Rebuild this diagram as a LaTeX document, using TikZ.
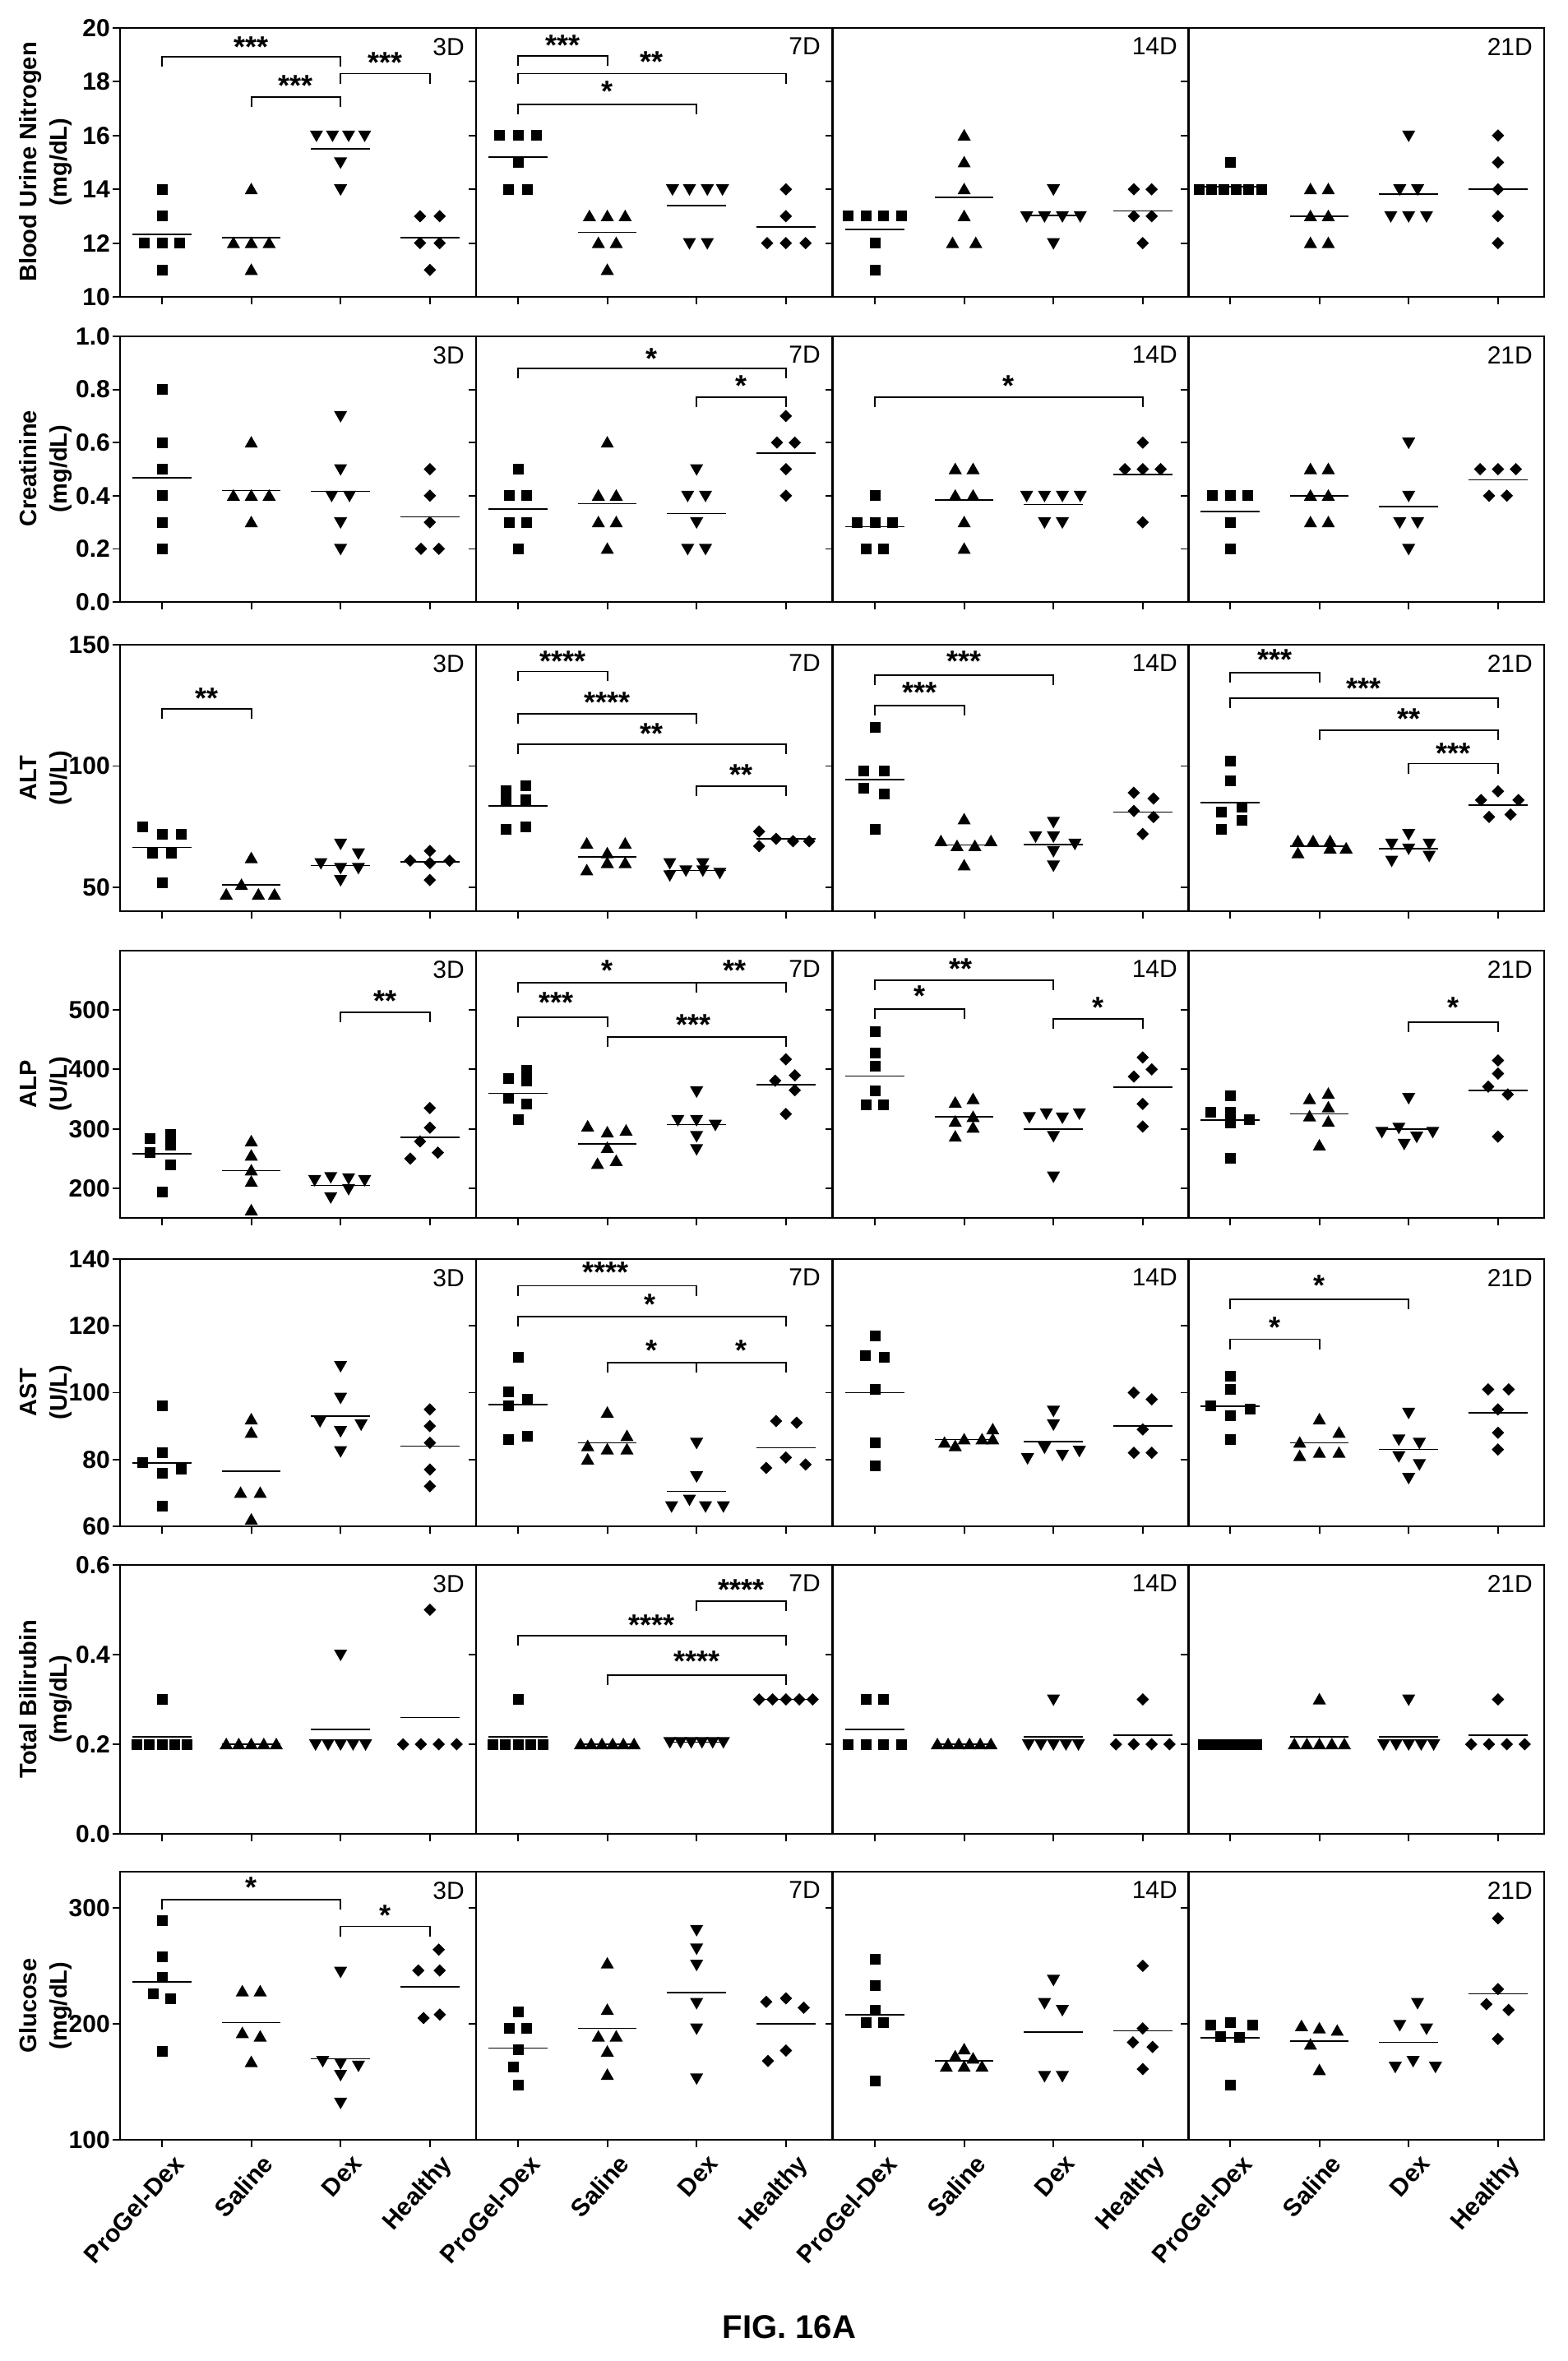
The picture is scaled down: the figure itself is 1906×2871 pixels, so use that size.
\documentclass[tikz,border=0pt]{standalone}
\usepackage{fontspec}
\setmainfont{Liberation Sans}
\tikzset{
 frame/.style={line width=2.6pt},
 tk/.style={line width=1.8pt},
 mline/.style={line width=1.6pt},
 brk/.style={line width=1.8pt},
 stars/.style={font=\bfseries\fontsize{36}{36}\selectfont, inner sep=0pt, yshift=-8pt},
 day/.style={font=\fontsize{30}{30}\selectfont, inner sep=0pt, anchor=north east},
 tl/.style={font=\bfseries\fontsize{30}{30}\selectfont, anchor=east, inner sep=0pt},
 ylab/.style={font=\bfseries\fontsize{29}{37}\selectfont, rotate=90, align=center, inner sep=0pt},
 xlab/.style={font=\bfseries\fontsize{30}{30}\selectfont, rotate=48, anchor=north east, inner sep=0pt}
}
\newcommand\Sq[2]{\fill (#1,#2) ++(-6.5pt,-6.5pt) rectangle ++(13pt,13pt);}
\newcommand\Tu[2]{\fill (#1,#2) ++(0pt,8pt) -- ++(-8pt,-14pt) -- ++(16pt,0pt) -- cycle;}
\newcommand\Td[2]{\fill (#1,#2) ++(0pt,-8pt) -- ++(-8pt,14pt) -- ++(16pt,0pt) -- cycle;}
\newcommand\Dm[2]{\fill (#1,#2) ++(0pt,7.5pt) -- ++(7.5pt,-7.5pt) -- ++(-7.5pt,-7.5pt) -- ++(-7.5pt,7.5pt) -- cycle;}
\newcommand\Mn[2]{\draw[mline] (#1-0.33,#2) -- (#1+0.33,#2);}
\newcommand\Br[6]{\draw[brk] (#1,#3) ++(0pt,-12pt) -- (#1,#3) -- (#2,#3) -- ++(0pt,-12pt); \node[stars] at (#5,#6) {#4};}
\newcommand\Frames[2]{\foreach \L in {146,579,1013,1445} {\draw[frame] (\L,#1) rectangle (\L+433,#2);
  \foreach \g in {0,...,3} \draw[tk] (\L+51+\g*108.6,#2) -- ++(0,9);}}
\newcommand\Yticks[3]{\foreach \L in {146,579,1013,1445} {\foreach \v in {#3} \draw[tk] (\L,{#1-#2*\v}) -- ++(-9,0);}}
\newcommand\Ylabs[3]{\foreach \v/\t in {#3} \node[tl] at (134,{#1-#2*\v}) {\t};}
\newcommand\Days[1]{\node[day] at (565,#1) {3D};\node[day] at (998,#1) {7D};\node[day] at (1432,#1) {14D};\node[day] at (1864,#1) {21D};}
\begin{document}
\begin{tikzpicture}[x=1pt,y=-1pt]
\useasboundingbox (0,0) rectangle (1906,2871);
% ---------- Row 1 BUN
\Frames{34}{361}\Yticks{688}{32.7}{10,12,14,16,18,20}
\Ylabs{688}{32.7}{10/10,12/12,14/14,16/16,18/18,20/20}\Days{46}
\node[ylab] (l1) at (56,197) {Blood Urine Nitrogen\\(mg/dL)};
\begin{scope}[shift={(197,688)},x=108.6pt,y=32.7pt]
\Sq{0}{14}\Sq{0}{13}\Sq{-.2}{12}\Sq{0}{12}\Sq{.2}{12}\Sq{0}{11}\Mn{0}{12.33}
\Tu{1}{14}\Tu{.8}{12}\Tu{1}{12}\Tu{1.2}{12}\Tu{1}{11}\Mn{1}{12.2}
\Td{1.73}{16}\Td{1.91}{16}\Td{2.09}{16}\Td{2.27}{16}\Td{2}{15}\Td{2}{14}\Mn{2}{15.5}
\Dm{2.89}{13}\Dm{3.11}{13}\Dm{2.89}{12}\Dm{3.11}{12}\Dm{3}{11}\Mn{3}{12.2}
\Br{0}{2}{18.93}{***}{1}{19.55}\Br{1}{2}{17.43}{***}{1.5}{18.1}\Br{2}{3}{18.3}{***}{2.5}{18.96}
\end{scope}
\begin{scope}[shift={(630,688)},x=108.6pt,y=32.7pt]
\Sq{-.21}{16}\Sq{0}{16}\Sq{.21}{16}\Sq{0}{15}\Sq{-.11}{14}\Sq{.11}{14}\Mn{0}{15.2}
\Tu{.8}{13}\Tu{1}{13}\Tu{1.2}{13}\Tu{.9}{12}\Tu{1.1}{12}\Tu{1}{11}\Mn{1}{12.4}
\Td{1.73}{14}\Td{1.92}{14}\Td{2.12}{14}\Td{2.29}{14}\Td{1.92}{12}\Td{2.12}{12}\Mn{2}{13.4}
\Dm{3}{14}\Dm{3}{13}\Dm{2.79}{12}\Dm{3}{12}\Dm{3.22}{12}\Mn{3}{12.6}
\Br{0}{1}{18.96}{***}{.5}{19.6}\Br{0}{3}{18.3}{**}{1.5}{19.0}\Br{0}{2}{17.15}{*}{1}{17.9}
\end{scope}
\begin{scope}[shift={(1064,688)},x=108.6pt,y=32.7pt]
\Sq{-.3}{13}\Sq{-.1}{13}\Sq{.1}{13}\Sq{.3}{13}\Sq{0}{12}\Sq{0}{11}\Mn{0}{12.5}
\Tu{1}{16}\Tu{1}{15}\Tu{1}{14}\Tu{1}{13}\Tu{.87}{12}\Tu{1.13}{12}\Mn{1}{13.7}
\Td{2}{14}\Td{1.7}{13}\Td{1.9}{13}\Td{2.1}{13}\Td{2.3}{13}\Td{2}{12}\Mn{2}{13.03}
\Dm{2.9}{14}\Dm{3.1}{14}\Dm{2.9}{13}\Dm{3.1}{13}\Dm{3}{12}\Mn{3}{13.2}
\end{scope}
\begin{scope}[shift={(1496,688)},x=108.6pt,y=32.7pt]
\Sq{0}{15}\foreach \o in {-.35,-.21,-.07,.07,.21,.35} {\Sq{\o}{14}}\Mn{0}{14.1}
\Tu{.9}{14}\Tu{1.1}{14}\Tu{.9}{13}\Tu{1.1}{13}\Tu{.9}{12}\Tu{1.1}{12}\Mn{1}{13}
\Td{2}{16}\Td{1.9}{14}\Td{2.1}{14}\Td{1.8}{13}\Td{2}{13}\Td{2.2}{13}\Mn{2}{13.83}
\Dm{3}{16}\Dm{3}{15}\Dm{3}{14}\Dm{3}{13}\Dm{3}{12}\Mn{3}{14}
\end{scope}
% ---------- Row 2 Creatinine
\Frames{409}{732}\Yticks{732}{323}{0,.2,.4,.6,.8,1}
\Ylabs{732}{323}{0/0.0,.2/0.2,.4/0.4,.6/0.6,.8/0.8,1/1.0}\Days{421}
\node[ylab] (l2) at (56,570) {Creatinine\\(mg/dL)};
\begin{scope}[shift={(197,732)},x=108.6pt,y=323pt]
\Sq{0}{.8}\Sq{0}{.6}\Sq{0}{.5}\Sq{0}{.4}\Sq{0}{.3}\Sq{0}{.2}\Mn{0}{.467}
\Tu{1}{.6}\Tu{.8}{.4}\Tu{1}{.4}\Tu{1.2}{.4}\Tu{1}{.3}\Mn{1}{.42}
\Td{2}{.7}\Td{2}{.5}\Td{1.9}{.4}\Td{2.1}{.4}\Td{2}{.3}\Td{2}{.2}\Mn{2}{.417}
\Dm{3}{.5}\Dm{3}{.4}\Dm{3}{.3}\Dm{2.9}{.2}\Dm{3.1}{.2}\Mn{3}{.32}
\end{scope}
\begin{scope}[shift={(630,732)},x=108.6pt,y=323pt]
\Sq{0}{.5}\Sq{-.1}{.4}\Sq{.1}{.4}\Sq{-.1}{.3}\Sq{.1}{.3}\Sq{0}{.2}\Mn{0}{.35}
\Tu{1}{.6}\Tu{.9}{.4}\Tu{1.1}{.4}\Tu{.9}{.3}\Tu{1.1}{.3}\Tu{1}{.2}\Mn{1}{.37}
\Td{2}{.5}\Td{1.9}{.4}\Td{2.1}{.4}\Td{2}{.3}\Td{1.9}{.2}\Td{2.1}{.2}\Mn{2}{.333}
\Dm{3}{.7}\Dm{2.9}{.6}\Dm{3.1}{.6}\Dm{3}{.5}\Dm{3}{.4}\Mn{3}{.56}
\Br{0}{3}{.88}{*}{1.5}{.94}\Br{2}{3}{.77}{*}{2.5}{.84}
\end{scope}
\begin{scope}[shift={(1064,732)},x=108.6pt,y=323pt]
\Sq{0}{.4}\Sq{-.2}{.3}\Sq{0}{.3}\Sq{.2}{.3}\Sq{-.1}{.2}\Sq{.1}{.2}\Mn{0}{.283}
\Tu{.9}{.5}\Tu{1.1}{.5}\Tu{.9}{.4}\Tu{1.1}{.4}\Tu{1}{.3}\Tu{1}{.2}\Mn{1}{.383}
\Td{1.7}{.4}\Td{1.9}{.4}\Td{2.1}{.4}\Td{2.3}{.4}\Td{1.9}{.3}\Td{2.1}{.3}\Mn{2}{.367}
\Dm{3}{.6}\Dm{2.8}{.5}\Dm{3}{.5}\Dm{3.2}{.5}\Dm{3}{.3}\Mn{3}{.48}
\Br{0}{3}{.77}{*}{1.5}{.84}
\end{scope}
\begin{scope}[shift={(1496,732)},x=108.6pt,y=323pt]
\Sq{-.2}{.4}\Sq{0}{.4}\Sq{.2}{.4}\Sq{0}{.3}\Sq{0}{.2}\Mn{0}{.34}
\Tu{.9}{.5}\Tu{1.1}{.5}\Tu{.9}{.4}\Tu{1.1}{.4}\Tu{.9}{.3}\Tu{1.1}{.3}\Mn{1}{.4}
\Td{2}{.6}\Td{2}{.4}\Td{1.9}{.3}\Td{2.1}{.3}\Td{2}{.2}\Mn{2}{.36}
\Dm{2.8}{.5}\Dm{3}{.5}\Dm{3.2}{.5}\Dm{2.9}{.4}\Dm{3.1}{.4}\Mn{3}{.46}
\end{scope}
% ---------- Row 3 ALT
\Frames{784}{1108}\Yticks{1226.5}{2.95}{50,100,150}
\Ylabs{1226.5}{2.95}{50/50,100/100,150/150}\Days{796}
\node[ylab] (l3) at (56,946) {ALT\\(U/L)};
\begin{scope}[shift={(197,1226.5)},x=108.6pt,y=2.95pt]
\Sq{-.22}{75}\Sq{0}{72}\Sq{.22}{72}\Sq{-.11}{64}\Sq{.11}{64}\Sq{0}{52}\Mn{0}{66.5}
\Tu{1}{62}\Tu{.89}{51}\Tu{.72}{47}\Tu{1.08}{47}\Tu{1.26}{47}\Mn{1}{51}
\Td{1.78}{60}\Td{2}{68}\Td{2}{58}\Td{2.2}{64}\Td{2.2}{58}\Td{2}{53}\Mn{2}{59}
\Dm{2.78}{61}\Dm{3}{65}\Dm{3}{60}\Dm{3.22}{61}\Dm{3}{53}\Mn{3}{60.5}
\Br{0}{1}{123.6}{**}{.5}{130.7}
\end{scope}
\begin{scope}[shift={(630,1226.5)},x=108.6pt,y=2.95pt]
\Sq{-.13}{90}\Sq{.09}{92}\Sq{-.13}{86}\Sq{.09}{86}\Sq{-.13}{74}\Sq{.09}{75}\Mn{0}{83.5}
\Tu{.77}{68}\Tu{1}{64}\Tu{1.2}{68}\Tu{.77}{57}\Tu{1}{60}\Tu{1.2}{60}\Mn{1}{62.5}
\Td{1.7}{60}\Td{1.88}{57}\Td{2.07}{60}\Td{1.7}{55}\Td{2.07}{57}\Td{2.26}{56}\Mn{2}{57}
\Dm{2.7}{73}\Dm{2.7}{67}\Dm{2.89}{70}\Dm{3.08}{69}\Dm{3.26}{69}\Mn{3}{70}
\Br{0}{1}{139}{****}{.5}{146}\Br{0}{2}{121.6}{****}{1}{129}\Br{0}{3}{109}{**}{1.5}{116}\Br{2}{3}{91.7}{**}{2.5}{99}
\end{scope}
\begin{scope}[shift={(1064,1226.5)},x=108.6pt,y=2.95pt]
\Sq{0}{116}\Sq{-.12}{98}\Sq{.11}{98}\Sq{-.12}{91}\Sq{.11}{88.6}\Sq{0}{74}\Mn{0}{94.4}
\Tu{1}{78}\Tu{.74}{69}\Tu{1.3}{69}\Tu{.92}{67}\Tu{1.12}{67}\Tu{1}{59}\Mn{1}{67.5}
\Td{1.8}{71}\Td{2}{77}\Td{2}{71}\Td{2}{65}\Td{2.24}{68}\Td{2}{59}\Mn{2}{67.7}
\Dm{2.9}{89}\Dm{3.12}{86.6}\Dm{2.9}{81.5}\Dm{3.12}{79}\Dm{3}{72}\Mn{3}{81}
\Br{0}{1}{125}{***}{.5}{133}\Br{0}{2}{137.5}{***}{1}{146}
\end{scope}
\begin{scope}[shift={(1496,1226.5)},x=108.6pt,y=2.95pt]
\Sq{0}{102}\Sq{0}{94}\Sq{-.1}{81}\Sq{.13}{83}\Sq{-.1}{74}\Sq{.13}{77.5}\Mn{0}{85}
\Tu{.76}{69}\Tu{.93}{69}\Tu{1.12}{69}\Tu{.76}{64}\Tu{1.12}{66}\Tu{1.3}{66}\Mn{1}{67}
\Td{1.81}{68}\Td{2}{72}\Td{2.23}{68}\Td{2}{66}\Td{1.81}{61}\Td{2.23}{63}\Mn{2}{66}
\Dm{2.81}{86}\Dm{3}{89.6}\Dm{3.23}{86}\Dm{2.9}{79}\Dm{3.14}{80}\Mn{3}{84}
\Br{0}{1}{138.5}{***}{.5}{146.6}\Br{0}{3}{128}{***}{1.5}{134.8}\Br{1}{3}{114.8}{**}{2}{122}\Br{2}{3}{101}{***}{2.5}{108}
\end{scope}
% ---------- Row 4 ALP
\Frames{1156}{1481}\Yticks{1589.7}{.7233}{200,300,400,500}
\Ylabs{1589.7}{.7233}{200/200,300/300,400/400,500/500}\Days{1168}
\node[ylab] (l4) at (56,1318) {ALP\\(U/L)};
\begin{scope}[shift={(197,1589.7)},x=108.6pt,y=.7233pt]
\Sq{-.13}{284}\Sq{.1}{291}\Sq{-.13}{260}\Sq{.1}{272}\Sq{.1}{240}\Sq{0}{194}\Mn{0}{258}
\Tu{1}{279}\Tu{1}{255}\Tu{1}{230}\Tu{1}{211}\Tu{1}{163}\Mn{1}{230}
\Td{1.71}{214}\Td{1.89}{219}\Td{2.09}{217}\Td{2.27}{214}\Td{1.89}{185}\Td{2.09}{199}\Mn{2}{205}
\Dm{3}{335}\Dm{3}{302}\Dm{2.89}{279}\Dm{2.78}{250}\Dm{3.09}{260}\Mn{3}{286}
\Br{2}{3}{496}{**}{2.5}{526}
\end{scope}
\begin{scope}[shift={(630,1589.7)},x=108.6pt,y=.7233pt]
\Sq{-.11}{385}\Sq{.1}{398}\Sq{.1}{380}\Sq{-.11}{352}\Sq{.1}{342}\Sq{0}{315}\Mn{0}{360}
\Tu{.78}{304}\Tu{1}{294}\Tu{1.21}{297}\Tu{1}{268}\Tu{.89}{241}\Tu{1.1}{246}\Mn{1}{275}
\Td{2}{363}\Td{1.79}{315}\Td{2}{315}\Td{2.21}{307}\Td{2}{288}\Td{2}{266}\Mn{2}{307}
\Dm{3}{417}\Dm{3.1}{390}\Dm{2.88}{381}\Dm{3.1}{365}\Dm{3}{325}\Mn{3}{374}
\Br{0}{3}{546}{*}{1}{577}\draw[brk] (2,546) -- ++(0pt,-12pt);\node[stars] at (2.43,577) {**};
\Br{0}{1}{488}{***}{.43}{523}\Br{1}{3}{455}{***}{1.97}{486}
\end{scope}
\begin{scope}[shift={(1064,1589.7)},x=108.6pt,y=.7233pt]
\Sq{0}{464}\Sq{0}{428}\Sq{0}{405}\Sq{0}{364}\Sq{-.1}{341}\Sq{.1}{341}\Mn{0}{389}
\Tu{.9}{344}\Tu{1.1}{350}\Tu{.9}{312}\Tu{1.1}{320}\Tu{.9}{287}\Tu{1.1}{302}\Mn{1}{320}
\Td{1.73}{320}\Td{1.92}{326}\Td{2.1}{319}\Td{2.29}{326}\Td{2}{288}\Td{2}{220}\Mn{2}{300}
\Dm{3}{420}\Dm{3.1}{400}\Dm{2.9}{388}\Dm{3}{342}\Dm{3}{304}\Mn{3}{370}
\Br{0}{2}{550}{**}{.96}{580}\Br{0}{1}{502}{*}{.5}{534}\Br{2}{3}{485}{*}{2.5}{515}
\end{scope}
\begin{scope}[shift={(1496,1589.7)},x=108.6pt,y=.7233pt]
\Sq{0}{355}\Sq{-.22}{328}\Sq{0}{328}\Sq{.22}{315}\Sq{0}{310}\Sq{0}{251}\Mn{0}{315}
\Tu{.89}{350}\Tu{1.1}{359}\Tu{.89}{321}\Tu{1.1}{336}\Tu{1.1}{312}\Tu{1}{272}\Mn{1}{325}
\Td{2}{352}\Td{1.89}{302}\Td{1.7}{295}\Td{2.09}{287}\Td{2.27}{295}\Td{1.95}{275}\Mn{2}{300}
\Dm{3}{415}\Dm{3}{393}\Dm{2.89}{371}\Dm{3.11}{358}\Dm{3}{287}\Mn{3}{365}
\Br{2}{3}{479}{*}{2.5}{515}
\end{scope}
% ---------- Row 5 AST
\Frames{1531}{1856}\Yticks{2099.75}{4.0625}{60,80,100,120,140}
\Ylabs{2099.75}{4.0625}{60/60,80/80,100/100,120/120,140/140}\Days{1543}
\node[ylab] (l5) at (56,1693) {AST\\(U/L)};
\begin{scope}[shift={(197,2099.75)},x=108.6pt,y=4.0625pt]
\Sq{0}{96}\Sq{0}{82}\Sq{-.22}{79}\Sq{.22}{77}\Sq{0}{76}\Sq{0}{66}\Mn{0}{79}
\Tu{1}{92}\Tu{1}{88}\Tu{.88}{70}\Tu{1.1}{70}\Tu{1}{62}\Mn{1}{76.5}
\Td{2}{108}\Td{2}{98.5}\Td{1.77}{91.5}\Td{2.23}{90.5}\Td{2}{88.5}\Td{2}{82.5}\Mn{2}{93}
\Dm{3}{95}\Dm{3}{90}\Dm{3}{85}\Dm{3}{77}\Dm{3}{72}\Mn{3}{84}
\end{scope}
\begin{scope}[shift={(630,2099.75)},x=108.6pt,y=4.0625pt]
\Sq{0}{110.5}\Sq{-.11}{100.3}\Sq{-.11}{96}\Sq{.11}{98}\Sq{-.11}{86}\Sq{.11}{87}\Mn{0}{96.5}
\Tu{1}{94}\Tu{.78}{84}\Tu{1}{83}\Tu{1.22}{87}\Tu{1.22}{83}\Tu{.78}{80}\Mn{1}{85}
\Td{2}{85}\Td{2}{75}\Td{1.92}{68}\Td{1.72}{66}\Td{2.1}{66}\Td{2.3}{66}\Mn{2}{70.5}
\Dm{2.89}{91.5}\Dm{3.12}{91}\Dm{3}{80.6}\Dm{2.78}{77.5}\Dm{3.22}{78.5}\Mn{3}{83.5}
\Br{0}{2}{132}{****}{.98}{138}\Br{0}{3}{122.8}{*}{1.48}{128.4}\Br{1}{3}{109}{*}{1.5}{114.6}
\draw[brk] (2,109) -- ++(0pt,-12pt);\node[stars] at (2.5,114.6) {*};
\end{scope}
\begin{scope}[shift={(1064,2099.75)},x=108.6pt,y=4.0625pt]
\Sq{0}{117}\Sq{-.11}{111}\Sq{.11}{110.5}\Sq{0}{101}\Sq{0}{85}\Sq{0}{78}\Mn{0}{100}
\Tu{.78}{85}\Tu{1}{86}\Tu{1.2}{86}\Tu{1.32}{89}\Tu{1.32}{86}\Tu{.9}{84}\Mn{1}{86}
\Td{2}{94.6}\Td{2}{90.5}\Td{1.71}{80.4}\Td{1.9}{83.6}\Td{2.1}{81.4}\Td{2.29}{82.6}\Mn{2}{85.3}
\Dm{2.9}{100}\Dm{3.1}{98}\Dm{3}{89}\Dm{2.9}{82}\Dm{3.1}{82}\Mn{3}{90}
\end{scope}
\begin{scope}[shift={(1496,2099.75)},x=108.6pt,y=4.0625pt]
\Sq{0}{105}\Sq{0}{101}\Sq{-.22}{96}\Sq{.23}{95}\Sq{0}{93}\Sq{0}{86}\Mn{0}{96}
\Tu{1}{92}\Tu{1.22}{88}\Tu{.78}{85}\Tu{.78}{81}\Tu{1}{82}\Tu{1.22}{82}\Mn{1}{85}
\Td{2}{94}\Td{1.89}{86}\Td{2.12}{85}\Td{1.89}{81}\Td{2.12}{78.6}\Td{2}{74.5}\Mn{2}{83}
\Dm{2.89}{101}\Dm{3.12}{101}\Dm{3}{95}\Dm{3}{88}\Dm{3}{83}\Mn{3}{94}
\Br{0}{2}{128}{*}{1}{134}\Br{0}{1}{116}{*}{.5}{121.6}
\end{scope}
% ---------- Row 6 Bilirubin
\Frames{1903}{2230}\Yticks{2230}{545}{0,.2,.4,.6}
\Ylabs{2230}{545}{0/0.0,.2/0.2,.4/0.4,.6/0.6}\Days{1915}
\node[ylab] (l6) at (56,2066) {Total Bilirubin\\(mg/dL)};
\begin{scope}[shift={(197,2230)},x=108.6pt,y=545pt]
\Sq{0}{.3}\foreach \o in {-.28,-.14,0,.14,.28} {\Sq{\o}{.2}}\Mn{0}{.217}
\foreach \o in {.72,.86,1,1.14,1.28} {\Tu{\o}{.2}}\Mn{1}{.2}
\Td{2}{.4}\foreach \o in {1.72,1.86,2,2.14,2.28} {\Td{\o}{.2}}\Mn{2}{.233}
\Dm{3}{.5}\foreach \o in {2.7,2.9,3.1,3.3} {\Dm{\o}{.2}}\Mn{3}{.26}
\end{scope}
\begin{scope}[shift={(630,2230)},x=108.6pt,y=545pt]
\Sq{0}{.3}\foreach \o in {-.28,-.14,0,.14,.28} {\Sq{\o}{.2}}\Mn{0}{.217}
\foreach \o in {.7,.82,.94,1.06,1.18,1.3} {\Tu{\o}{.2}}\Mn{1}{.2}
\foreach \o in {1.7,1.82,1.94,2.06,2.18,2.3} {\Td{\o}{.205}}\Mn{2}{.205}
\foreach \o in {2.7,2.85,3,3.15,3.3} {\Dm{\o}{.3}}\Mn{3}{.3}
\Br{2}{3}{.52}{****}{2.5}{.56}\Br{0}{3}{.442}{****}{1.5}{.48}\Br{1}{3}{.354}{****}{2}{.40}
\end{scope}
\begin{scope}[shift={(1064,2230)},x=108.6pt,y=545pt]
\Sq{-.1}{.3}\Sq{.1}{.3}\foreach \o in {-.3,-.1,.1,.3} {\Sq{\o}{.2}}\Mn{0}{.233}
\foreach \o in {.7,.82,.94,1.06,1.18,1.3} {\Tu{\o}{.2}}\Mn{1}{.2}
\Td{2}{.3}\foreach \o in {1.72,1.86,2,2.14,2.28} {\Td{\o}{.2}}\Mn{2}{.217}
\Dm{3}{.3}\foreach \o in {2.7,2.9,3.1,3.3} {\Dm{\o}{.2}}\Mn{3}{.22}
\end{scope}
\begin{scope}[shift={(1496,2230)},x=108.6pt,y=545pt]
\foreach \o in {-.3,-.2,-.1,0,.1,.2,.3} {\Sq{\o}{.2}}\Mn{0}{.2}
\Tu{1}{.3}\foreach \o in {.72,.86,1,1.14,1.28} {\Tu{\o}{.2}}\Mn{1}{.217}
\Td{2}{.3}\foreach \o in {1.72,1.86,2,2.14,2.28} {\Td{\o}{.2}}\Mn{2}{.217}
\Dm{3}{.3}\foreach \o in {2.7,2.9,3.1,3.3} {\Dm{\o}{.2}}\Mn{3}{.22}
\end{scope}
% ---------- Row 7 Glucose
\Frames{2276}{2602}\Yticks{2743}{1.41}{100,200,300}
\Ylabs{2743}{1.41}{100/100,200/200,300/300}\Days{2288}
\node[ylab] (l7) at (56,2439) {Glucose\\(mg/dL)};
\begin{scope}[shift={(197,2743)},x=108.6pt,y=1.41pt]
\Sq{0}{289}\Sq{0}{258}\Sq{0}{240}\Sq{-.1}{226}\Sq{.1}{222}\Sq{0}{176}\Mn{0}{236}
\Tu{.9}{228}\Tu{1.1}{228}\Tu{.9}{192}\Tu{1.1}{189}\Tu{1}{167}\Mn{1}{201}
\Td{2}{245}\Td{1.8}{168}\Td{2}{166}\Td{2.2}{164}\Td{2}{156}\Td{2}{132}\Mn{2}{170}
\Dm{3.1}{264}\Dm{2.87}{246}\Dm{3.11}{246}\Dm{2.93}{205}\Dm{3.11}{208}\Mn{3}{232}
\Br{0}{2}{307}{*}{1}{323}\Br{2}{3}{284}{*}{2.5}{299}
\end{scope}
\begin{scope}[shift={(630,2743)},x=108.6pt,y=1.41pt]
\Sq{0}{210}\Sq{-.1}{196}\Sq{.1}{196}\Sq{0}{178}\Sq{-.05}{163}\Sq{0}{147}\Mn{0}{179}
\Tu{1}{252}\Tu{1}{212}\Tu{.9}{189}\Tu{1.1}{189}\Tu{1}{176}\Tu{1}{156}\Mn{1}{196}
\Td{2}{281}\Td{2}{265}\Td{2}{251}\Td{2}{218}\Td{2}{196}\Td{2}{153}\Mn{2}{227}
\Dm{2.78}{219}\Dm{3}{222}\Dm{3.2}{214}\Dm{3}{177}\Dm{2.8}{168}\Mn{3}{200}
\end{scope}
\begin{scope}[shift={(1064,2743)},x=108.6pt,y=1.41pt]
\Sq{0}{256}\Sq{0}{233}\Sq{0}{212}\Sq{-.1}{201}\Sq{.1}{201}\Sq{0}{151}\Mn{0}{208}
\Tu{1}{178}\Tu{.9}{172}\Tu{1.1}{170}\Tu{.8}{163}\Tu{1}{163}\Tu{1.2}{163}\Mn{1}{168}
\Td{2}{238}\Td{1.9}{218}\Td{2.1}{212}\Td{1.9}{155}\Td{2.1}{155}\Mn{2}{193}
\Dm{3}{250}\Dm{3}{196}\Dm{2.89}{184}\Dm{3.11}{180}\Dm{3}{161}\Mn{3}{194}
\end{scope}
\begin{scope}[shift={(1496,2743)},x=108.6pt,y=1.41pt]
\Sq{-.22}{199}\Sq{0}{201}\Sq{.25}{199}\Sq{-.11}{189}\Sq{.11}{188}\Sq{0}{147}\Mn{0}{188}
\Tu{.8}{198}\Tu{1}{196}\Tu{1.2}{194}\Tu{.9}{182}\Tu{1}{160}\Mn{1}{185}
\Td{2.1}{218}\Td{1.9}{199}\Td{2.2}{196}\Td{1.85}{163}\Td{2.05}{168}\Td{2.3}{163}\Mn{2}{184}
\Dm{3}{291}\Dm{3}{230}\Dm{2.87}{217}\Dm{3.12}{212}\Dm{3}{187}\Mn{3}{226}
\end{scope}
% ---------- x labels
\foreach \X in {197,630,1064,1496} {
 \node[xlab] at (\X+12,2618) {ProGel-Dex};
 \node[xlab] at (\X+108.6+12,2618) {Saline};
 \node[xlab] at (\X+217.2+12,2618) {Dex};
 \node[xlab] at (\X+325.8+12,2618) {Healthy};
}
\node[font=\bfseries\fontsize{40}{40}\selectfont] (fig) at (960,2830) {FIG. 16A};
\end{tikzpicture}
\end{document}
